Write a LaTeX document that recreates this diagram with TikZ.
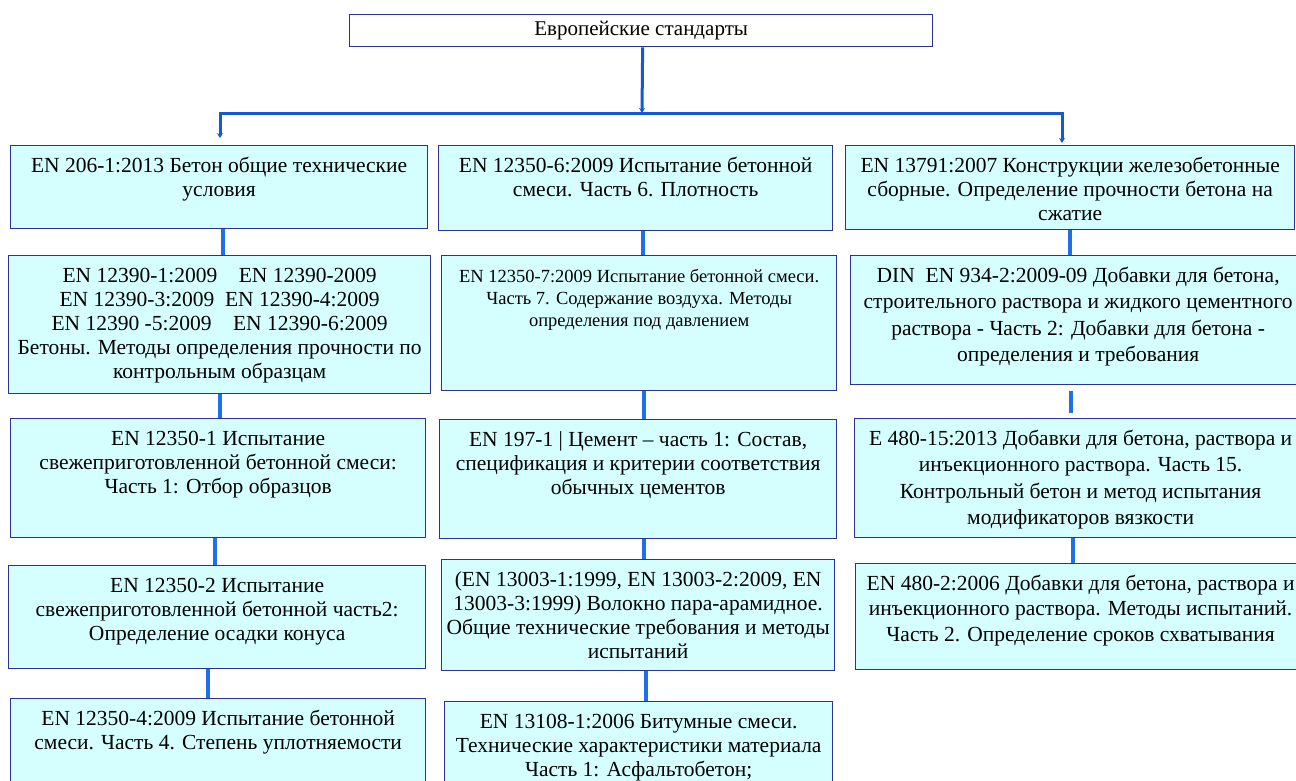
\documentclass[tikz,border=0pt]{standalone}
\usepackage{fontspec}
\setmainfont{Liberation Serif}
\usetikzlibrary{arrows.meta}

\definecolor{boxfill}{HTML}{D5FFFF}
\definecolor{boxline}{HTML}{2E3192}
\definecolor{linkblue}{HTML}{1F6FEA}
\definecolor{treeblue}{HTML}{1558D6}

% width, height, font size, baseline skip, text
\newcommand{\boxtext}[5]{%
  \parbox[c][#2pt][t]{#1pt}{\centering\fontsize{#3}{#4}\selectfont
    \vspace*{7.5pt}\rule{0pt}{19pt}#5}}

\tikzset{
  arr/.tip={Stealth[length=5pt,width=6pt]},
  stdbox/.style={draw=boxline, fill=boxfill, line width=1.3pt, inner sep=0pt, anchor=north west},
  topbox/.style={stdbox, fill=white},
  link/.style={draw=linkblue, line width=4pt},
  tree/.style={draw=treeblue, line width=3pt, line join=miter}
}

\begin{document}
\begin{tikzpicture}[x=1pt,y=-1pt]
    \useasboundingbox (0,0) rectangle (1296,780);
    \clip (0,0) rectangle (1296,780);

    % Заголовок
    \node[topbox] (top) at (349,14) {\parbox[c][32pt][c]{583pt}{\centering\fontsize{21}{24}\selectfont\raisebox{2pt}{Европейские стандарты}}};

    % Левая колонка
    \node[stdbox] (b1) at (10,145) {\boxtext{417}{83}{21.5}{24}{EN 206-1:2013 Бетон общие технические\\условия}};
    \node[stdbox] (b2) at (8,255) {\boxtext{422}{138}{21.5}{24.2}{EN 12390-1:2009\quad EN 12390-2009\\EN 12390-3:2009\ \ EN 12390-4:2009\\EN 12390 -5:2009\quad EN 12390-6:2009\\Бетоны. Методы определения прочности по\\контрольным образцам}};
    \node[stdbox] (b3) at (10,418) {\boxtext{415}{119}{21.5}{24}{EN 12350-1 Испытание\\свежеприготовленной бетонной смеси:\\Часть 1: Отбор образцов}};
    \node[stdbox] (b4) at (8,565) {\boxtext{417}{103}{21.5}{24}{EN 12350-2 Испытание\\свежеприготовленной бетонной часть2:\\Определение осадки конуса}};
    \node[stdbox] (b5) at (10,698) {\boxtext{415}{120}{21.5}{24}{EN 12350-4:2009 Испытание бетонной\\смеси. Часть 4. Степень уплотняемости}};

    % Средняя колонка
    \node[stdbox] (c1) at (438,145) {\boxtext{394}{85}{21.5}{24}{EN 12350-6:2009 Испытание бетонной\\смеси. Часть 6. Плотность}};
    \node[stdbox] (c2) at (441,255) {\boxtext{395}{135}{18.5}{22}{EN 12350-7:2009 Испытание бетонной смеси.\\Часть 7. Содержание воздуха. Методы\\определения под давлением}};
    \node[stdbox] (c3) at (439,419) {\boxtext{397}{119}{21.5}{24}{EN 197-1 | Цемент – часть 1: Состав,\\спецификация и критерии соответствия\\обычных цементов}};
    \node[stdbox] (c4) at (441,559) {\boxtext{393}{111}{21.5}{24}{(EN 13003-1:1999, EN 13003-2:2009, EN\\13003-3:1999) Волокно пара-арамидное.\\Общие технические требования и методы\\испытаний}};
    \node[stdbox] (c5) at (444,701) {\boxtext{388}{120}{21.5}{24}{EN 13108-1:2006 Битумные смеси.\\Технические характеристики материала\\Часть 1: Асфальтобетон;}};

    % Правая колонка
    \node[stdbox] (r1) at (845,145) {\boxtext{449}{84}{21.5}{24}{EN 13791:2007 Конструкции железобетонные\\сборные. Определение прочности бетона на\\сжатие}};
    \node[stdbox] (r2) at (850,255) {\boxtext{455}{129}{21.5}{26.5}{DIN\ \ EN 934-2:2009-09 Добавки для бетона,\\строительного раствора и жидкого цементного\\раствора - Часть 2: Добавки для бетона -\\определения и требования}};
    \node[stdbox] (r3) at (854,418) {\boxtext{452}{119}{21.5}{26.5}{E 480-15:2013 Добавки для бетона, раствора и\\инъекционного раствора. Часть 15.\\Контрольный бетон и метод испытания\\модификаторов вязкости}};
    \node[stdbox] (r4) at (855,563) {\boxtext{450}{106}{21.5}{25.5}{EN 480-2:2006 Добавки для бетона, раствора и\\инъекционного раствора. Методы испытаний.\\Часть 2. Определение сроков схватывания}};

    % Разветвление
    \coordinate (hub) at (642,113);
    \coordinate (hl) at (220,113);
    \coordinate (hr) at (1062,113);
    \draw[tree, -arr] ([xshift=1.5pt]top.south) -- (hub);
    \draw[tree, arr-arr, shorten <=7pt, shorten >=2pt] (hl |- b1.north) -- (hl) -- (hr) -- (hr |- r1.north);

    % Связи внутри колонок
    \draw[link] ([xshift=3.5pt]b1.south) -- ([xshift=3.5pt]b1.south |- b2.north);
    \draw[link] ([xshift=0pt]b2.south) -- ([xshift=0pt]b2.south |- b3.north);
    \draw[link] ([xshift=-3.5pt]b3.south) -- ([xshift=-3.5pt]b3.south |- b4.north);
    \draw[link] ([xshift=-9.5pt]b4.south) -- ([xshift=-9.5pt]b4.south |- b5.north);

    \draw[link] ([xshift=7pt]c1.south) -- ([xshift=7pt]c1.south |- c2.north);
    \draw[link] ([xshift=4.5pt]c2.south) -- ([xshift=4.5pt]c2.south |- c3.north);
    \draw[link] ([xshift=5.5pt]c3.south) -- ([xshift=5.5pt]c3.south |- c4.north);
    \draw[link] ([xshift=7.5pt]c4.south) -- ([xshift=7.5pt]c4.south |- c5.north);

    \draw[link] ([xshift=-0.5pt]r1.south) -- ([xshift=-0.5pt]r1.south |- r2.north);
    \draw[link, shorten <=6pt, shorten >=5pt] ([xshift=-7.5pt]r2.south) -- ([xshift=-7.5pt]r2.south |- r3.north);
    \draw[link] ([xshift=-8pt]r3.south) -- ([xshift=-8pt]r3.south |- r4.north);
\end{tikzpicture}
\end{document}
